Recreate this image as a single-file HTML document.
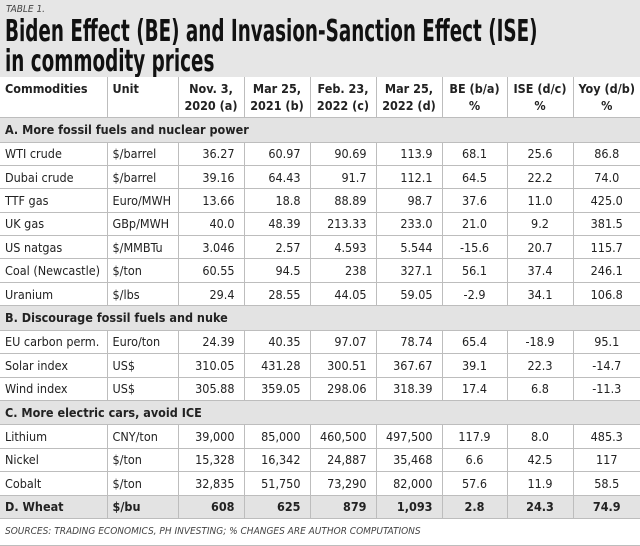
<!DOCTYPE html>
<html><head><meta charset="utf-8"><style>
body{margin:0;width:640px;height:544px;overflow:hidden;background:#e6e6e6;font-family:"Liberation Sans Narrow","DejaVu Sans Condensed","Liberation Sans",sans-serif;color:#222}
.t1{position:absolute;left:6px;top:4px;font-size:10px;font-style:italic;color:#444}
.title{position:absolute;left:5px;top:17px;font-size:30px;font-weight:bold;line-height:30px;color:#111;white-space:nowrap;transform:scaleX(0.68);transform-origin:0 0}
table{position:absolute;left:0;top:77px;width:640px;border-collapse:collapse;table-layout:fixed;font-size:12.5px}
td{border:1px solid #bdbdbd;background:#fff;padding:0 5px;height:22.4px;white-space:nowrap;overflow:hidden}
td.n{text-align:right;padding-right:9px}
td.c{text-align:center}
tr.h td{height:37px;font-weight:bold;vertical-align:top;padding-top:3px;line-height:17px}
tr.s td{background:#e3e3e3;font-weight:bold;height:23.5px}
tr.w td{background:#e3e3e3;font-weight:bold}
tr.src td{background:#fff;font-style:italic;font-size:10px;height:26px;color:#444}
tr:first-child td{border-top:none}
td:first-child{border-left:none}
td:last-child{border-right:none}
</style></head><body>
<div class="t1">TABLE 1.</div>
<div class="title">Biden Effect (BE) and Invasion-Sanction Effect (ISE)<br>in commodity prices</div>
<table>
<colgroup><col style="width:107px"><col style="width:71px"><col style="width:66px"><col style="width:66px"><col style="width:66px"><col style="width:66px"><col style="width:65px"><col style="width:66px"><col style="width:67px"></colgroup>
<tr class="h"><td>Commodities</td><td>Unit</td><td class="c">Nov. 3,<br>2020 (a)</td><td class="c">Mar 25,<br>2021 (b)</td><td class="c">Feb. 23,<br>2022 (c)</td><td class="c">Mar 25,<br>2022 (d)</td><td class="c">BE (b/a)<br>%</td><td class="c">ISE (d/c)<br>%</td><td class="c">Yoy (d/b)<br>%</td></tr>
<tr class="s"><td colspan="9">A. More fossil fuels and nuclear power</td></tr>
<tr><td>WTI crude</td><td>$/barrel</td><td class="n">36.27</td><td class="n">60.97</td><td class="n">90.69</td><td class="n">113.9</td><td class="c">68.1</td><td class="c">25.6</td><td class="c">86.8</td></tr>
<tr><td>Dubai crude</td><td>$/barrel</td><td class="n">39.16</td><td class="n">64.43</td><td class="n">91.7</td><td class="n">112.1</td><td class="c">64.5</td><td class="c">22.2</td><td class="c">74.0</td></tr>
<tr><td>TTF gas</td><td>Euro/MWH</td><td class="n">13.66</td><td class="n">18.8</td><td class="n">88.89</td><td class="n">98.7</td><td class="c">37.6</td><td class="c">11.0</td><td class="c">425.0</td></tr>
<tr><td>UK gas</td><td>GBp/MWH</td><td class="n">40.0</td><td class="n">48.39</td><td class="n">213.33</td><td class="n">233.0</td><td class="c">21.0</td><td class="c">9.2</td><td class="c">381.5</td></tr>
<tr><td>US natgas</td><td>$/MMBTu</td><td class="n">3.046</td><td class="n">2.57</td><td class="n">4.593</td><td class="n">5.544</td><td class="c">-15.6</td><td class="c">20.7</td><td class="c">115.7</td></tr>
<tr><td>Coal (Newcastle)</td><td>$/ton</td><td class="n">60.55</td><td class="n">94.5</td><td class="n">238</td><td class="n">327.1</td><td class="c">56.1</td><td class="c">37.4</td><td class="c">246.1</td></tr>
<tr><td>Uranium</td><td>$/lbs</td><td class="n">29.4</td><td class="n">28.55</td><td class="n">44.05</td><td class="n">59.05</td><td class="c">-2.9</td><td class="c">34.1</td><td class="c">106.8</td></tr>
<tr class="s"><td colspan="9">B. Discourage fossil fuels and nuke</td></tr>
<tr><td>EU carbon perm.</td><td>Euro/ton</td><td class="n">24.39</td><td class="n">40.35</td><td class="n">97.07</td><td class="n">78.74</td><td class="c">65.4</td><td class="c">-18.9</td><td class="c">95.1</td></tr>
<tr><td>Solar index</td><td>US$</td><td class="n">310.05</td><td class="n">431.28</td><td class="n">300.51</td><td class="n">367.67</td><td class="c">39.1</td><td class="c">22.3</td><td class="c">-14.7</td></tr>
<tr><td>Wind index</td><td>US$</td><td class="n">305.88</td><td class="n">359.05</td><td class="n">298.06</td><td class="n">318.39</td><td class="c">17.4</td><td class="c">6.8</td><td class="c">-11.3</td></tr>
<tr class="s"><td colspan="9">C. More electric cars, avoid ICE</td></tr>
<tr><td>Lithium</td><td>CNY/ton</td><td class="n">39,000</td><td class="n">85,000</td><td class="n">460,500</td><td class="n">497,500</td><td class="c">117.9</td><td class="c">8.0</td><td class="c">485.3</td></tr>
<tr><td>Nickel</td><td>$/ton</td><td class="n">15,328</td><td class="n">16,342</td><td class="n">24,887</td><td class="n">35,468</td><td class="c">6.6</td><td class="c">42.5</td><td class="c">117</td></tr>
<tr><td>Cobalt</td><td>$/ton</td><td class="n">32,835</td><td class="n">51,750</td><td class="n">73,290</td><td class="n">82,000</td><td class="c">57.6</td><td class="c">11.9</td><td class="c">58.5</td></tr>
<tr class="w"><td>D. Wheat</td><td>$/bu</td><td class="n">608</td><td class="n">625</td><td class="n">879</td><td class="n">1,093</td><td class="c">2.8</td><td class="c">24.3</td><td class="c">74.9</td></tr>
<tr class="src"><td colspan="9">SOURCES: TRADING ECONOMICS, PH INVESTING; % CHANGES ARE AUTHOR COMPUTATIONS</td></tr>
</table>
</body></html>
